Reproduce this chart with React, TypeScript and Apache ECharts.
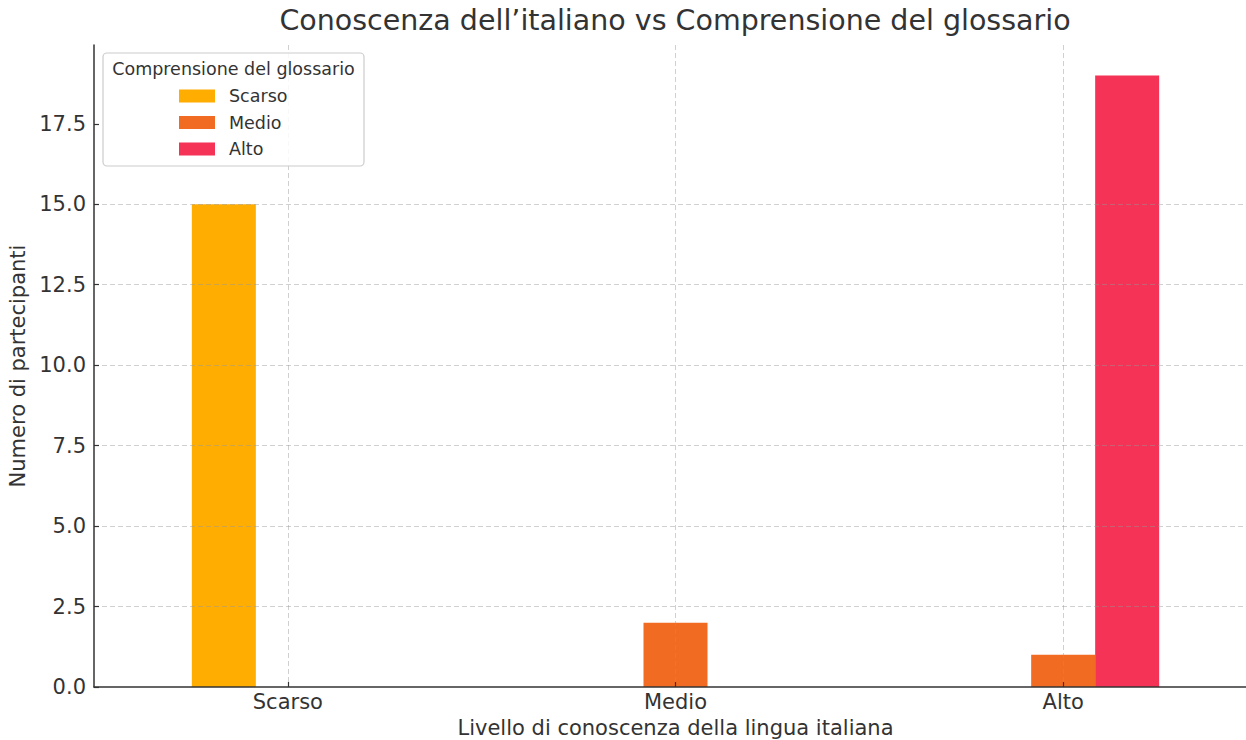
import React, { useEffect, useRef } from "react";
import * as echarts from "echarts";

const chartTitle = "Conoscenza dell’italiano vs Comprensione del glossario";
const legendTitle = "Comprensione del glossario";
const xAxisName = "Livello di conoscenza della lingua italiana";
const yAxisName = "Numero di partecipanti";

const categories = ["Scarso", "Medio", "Alto"];
const seriesNames = ["Scarso", "Medio", "Alto"];
const scarsoValues = [15, 0, 0];
const medioValues = [0, 2, 1];
const altoValues = [0, 0, 19];
const seriesColors = ["#FFAD00", "#F26B22", "#F53356"];
const yTicks = [0, 2.5, 5, 7.5, 10, 12.5, 15, 17.5];
const yMax = 19.95;
// helper axis with grid lines at category centres
const gridSlots = ["", "a", "", "b", "", "c", ""];

const FONT = "DejaVu Sans";
const TEXT = "#333333";
const GRID = "rgba(150,150,150,0.45)";

export default function App() {
  const ref = useRef<HTMLDivElement>(null);
  useEffect(() => {
    document.body.style.margin = "0";
    const chart = echarts.init(ref.current!, null, { renderer: "svg" });
    const values = [scarsoValues, medioValues, altoValues];
    chart.setOption({
      animation: false,
      textStyle: { fontFamily: FONT },
      grid: { left: 94, right: -11, top: 45, bottom: 53, outerBoundsMode: "none" },
      legend: {
        data: seriesNames,
        orient: "vertical",
        left: 179,
        top: 87,
        itemWidth: 36,
        itemHeight: 13,
        itemGap: 8.5,
        icon: "rect",
        padding: 0,
        textStyle: { fontFamily: FONT, fontSize: 17.5, color: TEXT, lineHeight: 18, padding: [0, 0, 0, 9] },
        z: 20,
      },
      xAxis: [
        {
          type: "category",
          data: categories,
          boundaryGap: true,
          z: 3,
          axisLine: { lineStyle: { color: TEXT, width: 1.5 } },
          axisTick: { show: true, inside: true, alignWithLabel: true, length: 5, lineStyle: { color: TEXT, width: 1.2 } },
          axisLabel: { fontSize: 21, color: TEXT, margin: 4, fontFamily: FONT },
          splitLine: { show: false },
          name: xAxisName,
          nameLocation: "middle",
          nameGap: 30,
          nameTextStyle: { fontSize: 21, color: TEXT, fontFamily: FONT },
        },
        {
          type: "category",
          data: gridSlots,
          boundaryGap: false,
          position: "bottom",
          z: 3,
          axisLine: { show: false },
          axisTick: { show: false },
          axisLabel: { show: false },
          splitLine: {
            show: true,
            interval: (i: number) => i % 2 === 1,
            lineStyle: { color: GRID, type: [5, 3], width: 1 },
          },
        },
      ],
      yAxis: {
        type: "value",
        min: 0,
        max: yMax,
        interval: 2.5,
        z: 3,
        axisLine: { show: true, lineStyle: { color: TEXT, width: 1.5 } },
        axisTick: { show: true, inside: true, length: 5, customValues: yTicks, lineStyle: { color: TEXT, width: 1.2 } },
        axisLabel: {
          fontSize: 21,
          color: TEXT,
          margin: 8,
          fontFamily: FONT,
          customValues: yTicks,
          formatter: (v: number) => v.toFixed(1),
        },
        splitLine: { show: true, showMinLine: false, showMaxLine: false, lineStyle: { color: GRID, type: [5, 3], width: 1 } },
        name: yAxisName,
        nameLocation: "middle",
        nameGap: 60,
        nameTextStyle: { fontSize: 21, color: TEXT, fontFamily: FONT },
      },
      series: seriesNames.map((name, i) => ({
        name,
        type: "bar",
        xAxisIndex: 0,
        data: values[i],
        barWidth: 64,
        barGap: "0%",
        itemStyle: { color: seriesColors[i] },
        z: 2,
      })),
      graphic: [
        {
          type: "text",
          x: 675,
          y: 6,
          style: { text: chartTitle, textAlign: "center", fontSize: 28.5, fill: TEXT, fontFamily: FONT },
        },
        {
          type: "rect",
          shape: { x: 103, y: 53, width: 261, height: 113, r: 4 },
          style: { fill: "rgba(255,255,255,0.85)", stroke: "#cccccc", lineWidth: 1.2 },
          z: 10,
        },
        {
          type: "text",
          x: 233.5,
          y: 60,
          style: { text: legendTitle, textAlign: "center", fontSize: 17.5, fill: TEXT, fontFamily: FONT },
          z: 11,
        },
      ],
    });
    return () => chart.dispose();
  }, []);
  return <div ref={ref} style={{ width: 1246, height: 740 }} />;
}
